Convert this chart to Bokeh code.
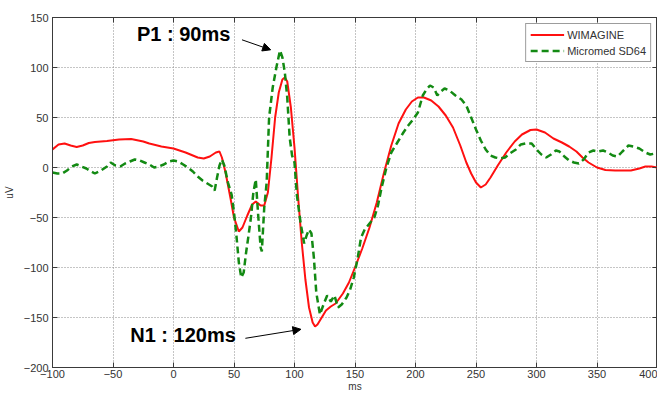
from bokeh.plotting import figure
from bokeh.models import Label, Arrow, NormalHead, LinearAxis, FixedTicker, Range1d
from bokeh.embed import file_html
from bokeh.resources import INLINE

# ---- data ----
x_ticks = [-100, -50, 0, 50, 100, 150, 200, 250, 300, 350, 400]
y_ticks = [-200, -150, -100, -50, 0, 50, 100, 150]

wim_t = [-100, -95, -90, -85, -80, -75, -70, -65, -55, -45, -35, -25, -20, -10, 0, 10, 20, 25, 30, 35, 38,
         40, 43, 47, 50, 54, 57, 61, 65, 68, 72, 75, 78, 81, 84, 87, 90, 92, 94, 97, 100, 103, 106, 109,
         112, 115, 117, 119, 122, 126, 130, 134, 140, 145, 150, 156, 162, 168, 174, 180, 186, 192, 197,
         202, 207, 213, 219, 225, 231, 237, 242, 246, 250, 254, 258, 262, 268, 275, 282, 288, 295, 300,
         307, 314, 321, 327, 333, 338, 343, 350, 357, 365, 372, 378, 385, 390, 395, 400]
wim_v = [18, 23, 24, 22, 20.5, 22, 24.5, 25.5, 26.5, 28, 28.5, 26, 24, 21, 19, 15, 10, 9, 11, 15, 16,
         10, -5, -30, -50, -64, -60, -48, -37, -34, -38, -38, -25, 10, 50, 75, 88, 90, 86, 60, 20, -30, -75, -112,
         -140, -155, -159, -157, -151, -143, -139, -136, -126, -115, -100, -81, -60, -35, -5, 22, 44, 58, 66,
         70, 70, 67, 61, 52, 40, 22, 5, -6, -15, -20, -17, -10, 2, 15, 26, 33, 37.5, 38,
         35, 29, 25, 21, 16, 10, 5, 0, -2.5, -3, -3, -3, -1, 1, 1, 0]

mic_t = [-100, -96, -92, -88, -84, -80, -76, -72, -68, -65, -60, -55, -52, -48, -44, -40, -36, -32, -28, -24,
         -20, -16, -12, -8, -4, 0, 4, 8, 12, 16, 20, 24, 28, 32, 34, 36, 38, 40, 42, 45, 48, 50, 52, 54, 56,
         58, 60, 62, 64, 66, 68, 70, 72, 73, 75, 77, 79, 82, 85, 88, 90, 92, 94, 96, 98, 100, 102, 105, 108,
         110, 112, 114, 116, 118, 121, 124, 127, 130, 133, 136, 139, 143, 146, 149, 152, 155, 158, 162, 166,
         169, 172, 176, 180, 185, 190, 194, 198, 202, 206, 209, 212, 215, 218, 221, 224, 228, 233, 238, 242,
         246, 250, 254, 258, 262, 266, 270, 274, 278, 283, 287, 291, 296, 300, 304, 308, 312, 316, 319, 323,
         327, 331, 335, 339, 343, 347, 351, 355, 359, 363, 367, 371, 376, 380, 385, 390, 394, 398, 400]
mic_v = [-5, -6, -6, -3, 1, 3, 1, -1, -4, -6, -3, 1, 5, 2, 1, 4, 6, 8, 7, 5,
         3, 0, 1, 3, 6, 7, 6, 3, 0, -4, -9, -13, -16, -19, -23, -10, 2, 8, 2, -15, -27, -45, -68, -95, -110,
         -105, -85, -68, -50, -25, -12, -48, -80, -84, -40, -15, 50, 80, 100, 117, 110, 95, 70, 30, 12, 5, -28, -55, -76,
         -68, -62, -66, -90, -125, -147, -137, -128, -134, -128, -140, -137, -130, -122, -110, -92, -70, -62, -56, -50,
         -38, -20, 0, 15, 25, 35, 42, 48, 55, 72, 78, 82, 80, 72, 76, 79, 77, 72, 68, 62,
         50, 38, 27, 18, 12, 10, 9, 10, 14, 18, 23, 24, 24, 18, 13, 10, 13, 17, 16, 11,
         7, 5, 4, 8, 15, 17, 16, 17, 15, 12, 11, 16, 22, 21, 19, 15, 13, 14, 14]

AX = "#3a3a3a"
TXT = "#333333"

p = figure(width=657, height=394, x_range=Range1d(-100, 400), y_range=Range1d(-200, 150),
           output_backend="svg", toolbar_location=None,
           min_border_left=52, min_border_right=0, min_border_top=17, min_border_bottom=0,
           background_fill_color="white", border_fill_color="white")

p.outline_line_color = AX
p.outline_line_width = 1

for ax in (p.xaxis[0], p.yaxis[0]):
    ax.major_tick_in = 5
    ax.major_tick_out = 0
    ax.minor_tick_line_color = None
    ax.axis_line_color = AX
    ax.major_tick_line_color = AX
    ax.major_label_text_font = "Liberation Sans"
    ax.major_label_text_font_size = "11px"
    ax.major_label_text_color = TXT
    ax.axis_label_text_font = "Liberation Sans"
    ax.axis_label_text_font_size = "10px"
    ax.axis_label_text_font_style = "normal"
    ax.axis_label_text_color = TXT

p.xaxis.ticker = FixedTicker(ticks=x_ticks)
p.yaxis.ticker = FixedTicker(ticks=y_ticks)
p.xaxis.major_label_standoff = 2
p.yaxis.major_label_standoff = 4
p.xaxis.axis_label = "ms"
p.xaxis.axis_label_standoff = 0
p.yaxis.axis_label = "uV"
p.yaxis.axis_label_standoff = 6

top_ax = LinearAxis(ticker=FixedTicker(ticks=x_ticks),
                    major_label_overrides={t: "" for t in x_ticks},
                    major_label_text_color=None, major_label_text_font_size="1px",
                    major_tick_in=5, major_tick_out=0, major_label_standoff=0,
                    minor_tick_line_color=None, axis_line_color=AX, major_tick_line_color=AX)
right_ax = LinearAxis(ticker=FixedTicker(ticks=y_ticks),
                      major_label_overrides={t: "" for t in y_ticks},
                      major_label_text_color=None, major_label_text_font_size="1px",
                      major_tick_in=5, major_tick_out=0, major_label_standoff=0,
                      minor_tick_line_color=None, axis_line_color=AX, major_tick_line_color=AX)
p.add_layout(top_ax, "above")
p.add_layout(right_ax, "right")

p.xgrid.ticker = FixedTicker(ticks=x_ticks)
p.ygrid.ticker = FixedTicker(ticks=y_ticks)
for g in (p.xgrid[0], p.ygrid[0]):
    g.grid_line_color = "#8a8a8a"
    g.grid_line_dash = "1 2"
    g.grid_line_width = 1

p.line(wim_t, wim_v, line_color="#ff1010", line_width=2, legend_label="WIMAGINE")
p.line(mic_t, mic_v, line_color="#138a13", line_width=2.5, line_dash="7 4", legend_label="Micromed SD64")

lg = p.legend[0]
lg.location = "top_right"
lg.margin = 6
lg.padding = 4
lg.spacing = 3
lg.border_line_color = AX
lg.border_line_width = 1
lg.background_fill_color = "white"
lg.background_fill_alpha = 1
lg.label_text_font = "Liberation Sans"
lg.label_text_font_size = "11px"
lg.label_text_color = TXT
lg.label_height = 13
lg.glyph_height = 13
lg.glyph_width = 34
lg.label_standoff = 3

p.add_layout(Label(x=-30.2, y=123, text="P1 : 90ms", text_font="Liberation Sans",
                   text_font_size="20px", text_font_style="bold", text_color="black"))
p.add_layout(Label(x=-35.8, y=-178.5, text="N1 : 120ms", text_font="Liberation Sans",
                   text_font_size="20px", text_font_style="bold", text_color="black"))
p.add_layout(Arrow(x_start=56.6, y_start=127.7, x_end=80.3, y_end=117.7, line_color="black",
                   line_width=1, end=NormalHead(size=8, fill_color="black", line_color="black")))
p.add_layout(Arrow(x_start=59.4, y_start=-170.8, x_end=105.3, y_end=-161.8, line_color="black",
                   line_width=1, end=NormalHead(size=8, fill_color="black", line_color="black")))

open("out.html", "w").write(file_html(p, INLINE))
